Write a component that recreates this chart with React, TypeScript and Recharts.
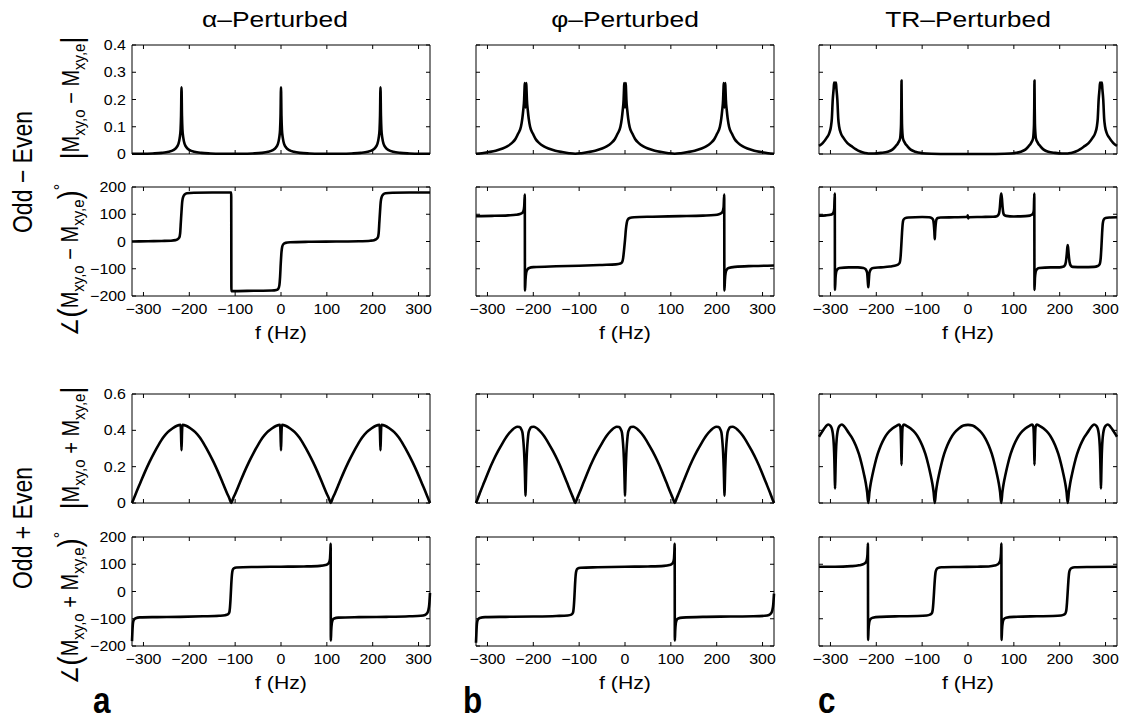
import React from 'react'
import { LineChart, Line, XAxis, YAxis } from 'recharts'

type Pt = [number, number]

// frequency axis (Hz) and tick labels
const F_DOMAIN: [number, number] = [-325, 325]
const F_TICKS = [-300, -200, -100, 0, 100, 200, 300]
const DIFF_MAG_TICKS = [0, 0.1, 0.2, 0.3, 0.4]
const SUM_MAG_TICKS = [0, 0.2, 0.4, 0.6]
const PHASE_TICKS = [-200, -100, 0, 100, 200]

const TITLES = ['α–Perturbed', 'φ–Perturbed', 'TR–Perturbed']
const LETTERS = ['a', 'b', 'c']

// |Mxy,o − Mxy,e|
const A_DIFF_MAG: Pt[] = [
  [-325, 0.001], [-300, 0.001], [-280, 0.002], [-260, 0.004], [-245, 0.008], [-235, 0.014], [-228, 0.024],
  [-224, 0.036], [-221, 0.058], [-219, 0.09], [-218, 0.14], [-217, 0.245], [-216, 0.14], [-215, 0.09],
  [-213, 0.058], [-210, 0.036], [-206, 0.024], [-199, 0.014], [-189, 0.008], [-174, 0.004], [-154, 0.002],
  [-134, 0.001], [-108, 0.001], [-82, 0.001], [-62, 0.002], [-42, 0.004], [-28, 0.008], [-18, 0.014],
  [-11, 0.024], [-7, 0.036], [-4, 0.058], [-2, 0.09], [-1, 0.14], [0, 0.245], [1, 0.14], [2, 0.09],
  [4, 0.058], [7, 0.036], [11, 0.024], [18, 0.014], [28, 0.008], [42, 0.004], [62, 0.002], [82, 0.001],
  [108, 0.001], [134, 0.001], [154, 0.002], [174, 0.004], [189, 0.008], [199, 0.014], [206, 0.024],
  [210, 0.036], [213, 0.058], [215, 0.09], [216, 0.14], [217, 0.245], [218, 0.14], [219, 0.09], [221, 0.058],
  [224, 0.036], [228, 0.024], [235, 0.014], [245, 0.008], [260, 0.004], [280, 0.002], [300, 0.001], [325, 0.001],
]

const B_DIFF_MAG: Pt[] = [
  [-325, 0.001], [-312, 0.003], [-297, 0.007], [-282, 0.012], [-267, 0.02], [-257, 0.028], [-247, 0.04],
  [-239, 0.055], [-233, 0.075], [-227, 0.1], [-224, 0.13], [-222, 0.16], [-220, 0.2], [-219, 0.245],
  [-218.5, 0.26], [-217, 0.17], [-215.5, 0.26], [-215, 0.245], [-214, 0.2], [-212, 0.16], [-210, 0.13],
  [-207, 0.1], [-201, 0.075], [-195, 0.055], [-187, 0.04], [-177, 0.028], [-167, 0.02], [-152, 0.012],
  [-137, 0.007], [-122, 0.003], [-108.5, 0.001], [-95, 0.003], [-80, 0.007], [-65, 0.012], [-50, 0.02],
  [-40, 0.028], [-30, 0.04], [-22, 0.055], [-16, 0.075], [-10, 0.1], [-7, 0.13], [-5, 0.16], [-3, 0.2],
  [-2, 0.245], [-1.5, 0.26], [0, 0.17], [1.5, 0.26], [2, 0.245], [3, 0.2], [5, 0.16], [7, 0.13], [10, 0.1],
  [16, 0.075], [22, 0.055], [30, 0.04], [40, 0.028], [50, 0.02], [65, 0.012], [80, 0.007], [95, 0.003],
  [108.5, 0.001], [122, 0.003], [137, 0.007], [152, 0.012], [167, 0.02], [177, 0.028], [187, 0.04],
  [195, 0.055], [201, 0.075], [207, 0.1], [210, 0.13], [212, 0.16], [214, 0.2], [215, 0.245], [215.5, 0.26],
  [217, 0.17], [218.5, 0.26], [219, 0.245], [220, 0.2], [222, 0.16], [224, 0.13], [227, 0.1], [233, 0.075],
  [239, 0.055], [247, 0.04], [257, 0.028], [267, 0.02], [282, 0.012], [297, 0.007], [312, 0.003], [325, 0.001],
]

const C_DIFF_MAG: Pt[] = [
  [-325, 0.03], [-317, 0.04], [-308, 0.06], [-303, 0.075], [-299, 0.1], [-297, 0.13], [-295, 0.2],
  [-293, 0.24], [-292, 0.262], [-290, 0.245], [-288, 0.262], [-287, 0.24], [-285, 0.2], [-283, 0.13],
  [-281, 0.1], [-277, 0.075], [-272, 0.06], [-263, 0.04], [-255, 0.03], [-245, 0.018], [-235, 0.009],
  [-225, 0.004], [-217.5, 0.002], [-205, 0.002], [-190, 0.004], [-175, 0.008], [-165, 0.016], [-158, 0.028],
  [-152, 0.042], [-148, 0.058], [-147, 0.075], [-146, 0.11], [-145.5, 0.17], [-145, 0.27], [-144.5, 0.17],
  [-144, 0.11], [-143, 0.075], [-142, 0.058], [-138, 0.042], [-132, 0.028], [-125, 0.016], [-115, 0.008],
  [-100, 0.003], [-80, 0.001], [-40, 0], [0, 0], [40, 0], [80, 0.001], [100, 0.003], [115, 0.008],
  [125, 0.016], [132, 0.028], [138, 0.042], [142, 0.058], [143, 0.075], [144, 0.11], [144.5, 0.17],
  [145, 0.27], [145.5, 0.17], [146, 0.11], [147, 0.075], [148, 0.058], [152, 0.042], [158, 0.028],
  [165, 0.016], [175, 0.008], [190, 0.004], [205, 0.002], [217.5, 0.002], [225, 0.004], [235, 0.009],
  [245, 0.018], [255, 0.03], [263, 0.04], [272, 0.06], [277, 0.075], [281, 0.1], [283, 0.13], [285, 0.2],
  [287, 0.24], [288, 0.262], [290, 0.245], [292, 0.262], [293, 0.24], [295, 0.2], [297, 0.13], [299, 0.1],
  [303, 0.075], [308, 0.06], [317, 0.04], [325, 0.03],
]

// ∠(Mxy,o − Mxy,e) in degrees
const A_DIFF_PH: Pt[] = [
  [-325, 0], [-290, 1], [-260, 2], [-240, 3], [-230, 5], [-226, 8], [-222, 14], [-220, 30], [-218.5, 70],
  [-217, 110], [-215.5, 145], [-213.5, 163], [-210, 173], [-205, 177], [-190, 179], [-150, 180],
  [-108.6, 180], [-108.2, -182], [-60, -181], [-20, -180], [-10, -178], [-6, -174], [-3.5, -160],
  [-2, -130], [-0.5, -80], [1, -40], [2.5, -20], [5, -10], [10, -5], [20, -3], [60, -1], [120, 0],
  [170, 1], [195, 3], [203, 5], [207, 8], [211, 14], [213, 30], [214.5, 70], [216, 110], [217.5, 145],
  [219.5, 163], [223, 173], [228, 177], [243, 179], [280, 180], [325, 180],
]

const B_DIFF_PH: Pt[] = [
  [-325, 93], [-290, 94], [-255, 96], [-238, 98], [-229, 101], [-224, 105], [-221.5, 112], [-219.8, 130],
  [-218.6, 172], [-218.2, -180], [-217, -140], [-215.5, -115], [-213, -103], [-209, -97], [-200, -94],
  [-150, -91], [-100, -89], [-50, -86], [-20, -84], [-10, -81], [-6, -75], [-4, -60], [-2, -30], [0, 5],
  [2, 45], [4, 70], [6, 80], [10, 86], [20, 89], [60, 91], [120, 93], [170, 95], [195, 97], [205, 100],
  [210, 104], [213, 110], [215, 125], [216.4, 172], [216.8, -180], [218, -140], [219.5, -115], [222, -103],
  [226, -97], [240, -93], [280, -90], [325, -88],
]

const C_DIFF_PH: Pt[] = [
  [-325, 95], [-310, 96], [-300, 98], [-296, 101], [-293.5, 106], [-291.8, 120], [-290.6, 176],
  [-290.2, -178], [-289, -135], [-287.5, -112], [-285, -102], [-280, -97], [-260, -95], [-240, -95],
  [-228, -97], [-223, -102], [-220, -115], [-218.5, -148], [-217.5, -168], [-216.5, -148], [-215, -115],
  [-212, -102], [-207, -97], [-190, -95], [-170, -92], [-160, -89], [-153, -85], [-149, -78], [-147, -55],
  [-145.5, -15], [-144, 30], [-142.5, 65], [-141, 79], [-138, 85], [-130, 88], [-100, 90], [-85, 89],
  [-79, 86], [-76, 80], [-74.5, 62], [-73.3, 35], [-72.5, 8], [-71.7, 35], [-70.5, 62], [-69, 80],
  [-66, 86], [-60, 88], [-30, 89], [-5, 90], [-1.5, 91], [-0.5, 96], [0.5, 85], [1.5, 89], [30, 90],
  [55, 91], [63, 93], [66, 97], [68, 105], [69.5, 125], [71, 158], [72.5, 176], [74, 158], [75.5, 125],
  [77, 105], [79, 97], [83, 94], [100, 92], [125, 93], [135, 95], [139, 98], [142, 103], [143.6, 115],
  [144.6, 176], [145, -178], [146, -135], [147.5, -112], [150, -102], [155, -97], [180, -95], [200, -95],
  [207, -93], [211, -88], [213.5, -75], [215.5, -45], [216.7, -22], [217.5, -13], [218.3, -22],
  [219.5, -45], [221.5, -75], [224, -88], [228, -93], [250, -94], [275, -93], [283, -90], [287, -84],
  [289.5, -60], [291, -20], [292.5, 30], [294, 66], [296, 80], [300, 86], [310, 88], [325, 89],
]

// |Mxy,o + Mxy,e|
const A_SUM_MAG: Pt[] = [
  [-325, 0], [-321, 0.025], [-317, 0.05], [-307, 0.11], [-297, 0.17], [-287, 0.225], [-277, 0.275],
  [-267, 0.32], [-257, 0.36], [-247, 0.39], [-237, 0.41], [-227, 0.425], [-219, 0.43], [-218, 0.38],
  [-217, 0.29], [-216, 0.38], [-215, 0.43], [-207, 0.425], [-197, 0.41], [-187, 0.39], [-177, 0.36],
  [-167, 0.32], [-157, 0.275], [-147, 0.225], [-137, 0.17], [-127, 0.11], [-117, 0.05], [-112.5, 0.025],
  [-108.5, 0], [-104.5, 0.025], [-100, 0.05], [-90, 0.11], [-80, 0.17], [-70, 0.225], [-60, 0.275],
  [-50, 0.32], [-40, 0.36], [-30, 0.39], [-20, 0.41], [-10, 0.425], [-2, 0.43], [-1, 0.38], [0, 0.29],
  [1, 0.38], [2, 0.43], [10, 0.425], [20, 0.41], [30, 0.39], [40, 0.36], [50, 0.32], [60, 0.275],
  [70, 0.225], [80, 0.17], [90, 0.11], [100, 0.05], [104.5, 0.025], [108.5, 0], [112.5, 0.025], [117, 0.05],
  [127, 0.11], [137, 0.17], [147, 0.225], [157, 0.275], [167, 0.32], [177, 0.36], [187, 0.39], [197, 0.41],
  [207, 0.425], [215, 0.43], [216, 0.38], [217, 0.29], [218, 0.38], [219, 0.43], [227, 0.425], [237, 0.41],
  [247, 0.39], [257, 0.36], [267, 0.32], [277, 0.275], [287, 0.225], [297, 0.17], [307, 0.11], [317, 0.05],
  [321, 0.025], [325, 0],
]

const B_SUM_MAG: Pt[] = [
  [-325, 0], [-321, 0.025], [-317, 0.052], [-307, 0.115], [-297, 0.178], [-287, 0.235], [-277, 0.285],
  [-267, 0.33], [-257, 0.37], [-247, 0.4], [-235, 0.42], [-230, 0.418], [-226, 0.405], [-223.5, 0.385],
  [-222, 0.35], [-220.5, 0.3], [-219.5, 0.25], [-218.5, 0.18], [-217.7, 0.1], [-217, 0.04], [-216.3, 0.1],
  [-215.5, 0.18], [-214.5, 0.25], [-213.5, 0.3], [-212, 0.35], [-210.5, 0.385], [-208, 0.405],
  [-204, 0.418], [-199, 0.42], [-187, 0.4], [-177, 0.37], [-167, 0.33], [-157, 0.285], [-147, 0.235],
  [-137, 0.178], [-127, 0.115], [-117, 0.052], [-112.5, 0.025], [-108.5, 0], [-104.5, 0.025],
  [-100, 0.052], [-90, 0.115], [-80, 0.178], [-70, 0.235], [-60, 0.285], [-50, 0.33], [-40, 0.37],
  [-30, 0.4], [-18, 0.42], [-13, 0.418], [-9, 0.405], [-6.5, 0.385], [-5, 0.35], [-3.5, 0.3], [-2.5, 0.25],
  [-1.5, 0.18], [-0.7, 0.1], [0, 0.04], [0.7, 0.1], [1.5, 0.18], [2.5, 0.25], [3.5, 0.3], [5, 0.35],
  [6.5, 0.385], [9, 0.405], [13, 0.418], [18, 0.42], [30, 0.4], [40, 0.37], [50, 0.33], [60, 0.285],
  [70, 0.235], [80, 0.178], [90, 0.115], [100, 0.052], [104.5, 0.025], [108.5, 0], [112.5, 0.025],
  [117, 0.052], [127, 0.115], [137, 0.178], [147, 0.235], [157, 0.285], [167, 0.33], [177, 0.37],
  [187, 0.4], [199, 0.42], [204, 0.418], [208, 0.405], [210.5, 0.385], [212, 0.35], [213.5, 0.3],
  [214.5, 0.25], [215.5, 0.18], [216.3, 0.1], [217, 0.04], [217.7, 0.1], [218.5, 0.18], [219.5, 0.25],
  [220.5, 0.3], [222, 0.35], [223.5, 0.385], [226, 0.405], [230, 0.418], [235, 0.42], [247, 0.4],
  [257, 0.37], [267, 0.33], [277, 0.285], [287, 0.235], [297, 0.178], [307, 0.115], [317, 0.052],
  [321, 0.025], [325, 0],
]

const C_SUM_MAG: Pt[] = [
  [-325, 0.365], [-320, 0.385], [-315, 0.405], [-310, 0.422], [-305, 0.432], [-300, 0.425], [-297, 0.41],
  [-295, 0.385], [-293.5, 0.35], [-292.5, 0.31], [-291.5, 0.24], [-290.7, 0.15], [-290, 0.08],
  [-289.3, 0.15], [-288.5, 0.24], [-287.5, 0.31], [-286.5, 0.35], [-285, 0.385], [-283, 0.41],
  [-280, 0.425], [-275, 0.432], [-270, 0.422], [-260, 0.385], [-252, 0.355], [-245, 0.318], [-238, 0.27],
  [-232, 0.215], [-227, 0.16], [-223, 0.11], [-220, 0.06], [-217.5, 0], [-215, 0.06], [-212, 0.11],
  [-208, 0.16], [-203, 0.215], [-197, 0.27], [-190, 0.318], [-183, 0.355], [-175, 0.385], [-165, 0.41],
  [-155, 0.426], [-150, 0.432], [-147.5, 0.42], [-146.5, 0.38], [-145.7, 0.3], [-145, 0.21], [-144.3, 0.3],
  [-143.5, 0.38], [-142.5, 0.42], [-140, 0.432], [-135, 0.426], [-125, 0.41], [-115, 0.385], [-107, 0.355],
  [-100, 0.318], [-93, 0.27], [-87, 0.215], [-82, 0.16], [-78, 0.11], [-75, 0.06], [-72.5, 0], [-70, 0.06],
  [-67, 0.11], [-63, 0.16], [-58, 0.215], [-52, 0.27], [-45, 0.318], [-38, 0.355], [-30, 0.385],
  [-20, 0.41], [-10, 0.426], [0, 0.43], [10, 0.426], [20, 0.41], [30, 0.385], [38, 0.355], [45, 0.318],
  [52, 0.27], [58, 0.215], [63, 0.16], [67, 0.11], [70, 0.06], [72.5, 0], [75, 0.06], [78, 0.11],
  [82, 0.16], [87, 0.215], [93, 0.27], [100, 0.318], [107, 0.355], [115, 0.385], [125, 0.41], [135, 0.426],
  [140, 0.432], [142.5, 0.42], [143.5, 0.38], [144.3, 0.3], [145, 0.21], [145.7, 0.3], [146.5, 0.38],
  [147.5, 0.42], [150, 0.432], [155, 0.426], [165, 0.41], [175, 0.385], [183, 0.355], [190, 0.318],
  [197, 0.27], [203, 0.215], [208, 0.16], [212, 0.11], [215, 0.06], [217.5, 0], [220, 0.06], [223, 0.11],
  [227, 0.16], [232, 0.215], [238, 0.27], [245, 0.318], [252, 0.355], [260, 0.385], [270, 0.422],
  [275, 0.432], [280, 0.425], [283, 0.41], [285, 0.385], [286.5, 0.35], [287.5, 0.31], [288.5, 0.24],
  [289.3, 0.15], [290, 0.08], [290.7, 0.15], [291.5, 0.24], [292.5, 0.31], [293.5, 0.35], [295, 0.385],
  [297, 0.41], [300, 0.425], [305, 0.432], [310, 0.422], [315, 0.405], [320, 0.385], [325, 0.365],
]

// ∠(Mxy,o + Mxy,e) in degrees
const A_SUM_PH: Pt[] = [
  [-325, -182], [-324.3, -155], [-323.5, -128], [-322.5, -112], [-320.5, -103], [-317, -98], [-308, -95],
  [-270, -94], [-220, -93], [-170, -91], [-135, -89], [-122, -87], [-116, -84], [-113, -78], [-111.5, -62],
  [-110, -25], [-108.5, 25], [-107, 62], [-105.5, 78], [-103, 85], [-97, 88], [-60, 90], [0, 91], [50, 92],
  [85, 94], [97, 97], [102, 101], [105, 107], [106.8, 120], [107.8, 150], [108.3, 175], [108.7, -180],
  [109.5, -145], [110.8, -117], [112.5, -105], [116, -99], [125, -96], [170, -94], [230, -93], [280, -91],
  [305, -89], [314, -86], [318.5, -80], [321.5, -68], [323.5, -45], [325, -5],
]

const B_SUM_PH: Pt[] = [
  [-325, -188], [-324.3, -160], [-323.5, -130], [-322.5, -112], [-320.5, -102], [-317, -97], [-305, -94],
  [-260, -93], [-200, -92], [-150, -90], [-125, -88], [-117, -85], [-113.5, -78], [-112, -62],
  [-110.5, -25], [-109, 25], [-107.5, 62], [-106, 77], [-103.5, 84], [-97, 87], [-60, 89], [0, 91],
  [50, 92], [85, 94], [97, 97], [102, 101], [105, 107], [106.8, 120], [107.8, 150], [108.3, 175],
  [108.7, -180], [109.5, -145], [110.8, -117], [112.5, -105], [116, -99], [125, -96], [170, -93],
  [230, -92], [280, -91], [305, -89], [314, -86], [318.5, -80], [321.5, -68], [323.5, -45], [325, -8],
]

const C_SUM_PH: Pt[] = [
  [-325, 91], [-290, 91], [-255, 93], [-238, 96], [-229, 100], [-224, 105], [-221, 114], [-219.3, 135],
  [-218.3, 176], [-217.9, -178], [-217, -140], [-215.5, -114], [-213, -102], [-208, -96], [-190, -93],
  [-150, -91], [-110, -90], [-90, -88], [-83, -85], [-79, -80], [-77, -68], [-75.5, -40], [-74, 0],
  [-72.5, 40], [-71, 68], [-69, 80], [-66, 86], [-58, 89], [-20, 90], [20, 91], [45, 92], [58, 95],
  [64, 99], [68, 105], [70.5, 116], [72, 140], [72.8, 176], [73.2, -178], [74.2, -140], [75.7, -114],
  [78, -102], [83, -96], [100, -93], [150, -91], [185, -90], [203, -88], [209, -85], [212.5, -80],
  [214.5, -68], [216, -40], [217.5, 0], [219, 40], [220.5, 68], [222.5, 80], [225.5, 86], [233, 89],
  [270, 90], [325, 91],
]

// layout
const COL_X = [132, 476, 819]
const ROW_Y = [45, 187, 394, 537]
const PW = 298
const PH = 109
const ML = 45
const MR = 5
const MT = 5
const MB = 30
const PAD_T = 12
const TL = 4
const FONT = '"Liberation Sans", Arial, Helvetica, sans-serif'

function fmtTick(v: number) {
  return v < 0 ? `\u2212${Math.abs(v)}` : String(v)
}

const bottomTick = (show: boolean) => (p: any) => (
  <g>
    <line x1={p.x} x2={p.x} y1={p.y} y2={p.y - TL} stroke="#000" />
    {show && (
      <text
        transform={`translate(${p.x},${p.y + 18}) scale(1.1,1)`}
        textAnchor="middle"
        fontSize={14.5}
        fontFamily={FONT}
        fill="#000"
      >
        {fmtTick(p.payload.value)}
      </text>
    )}
  </g>
)

const topTick = (p: any) => <line x1={p.x} x2={p.x} y1={p.y} y2={p.y + TL} stroke="#000" />

const leftTick = (show: boolean) => (p: any) => (
  <g>
    <line x1={p.x} x2={p.x + TL} y1={p.y} y2={p.y} stroke="#000" />
    {show && (
      <text
        transform={`translate(${p.x - 6},${p.y + 5}) scale(1.1,1)`}
        textAnchor="end"
        fontSize={14.5}
        fontFamily={FONT}
        fill="#000"
      >
        {fmtTick(p.payload.value)}
      </text>
    )}
  </g>
)

const rightTick = (p: any) => <line x1={p.x} x2={p.x - TL} y1={p.y} y2={p.y} stroke="#000" />

function Panel(props: {
  col: number
  row: number
  pts: Pt[]
  yDomain: [number, number]
  yTicks: number[]
}) {
  const { col, row, pts, yDomain, yTicks } = props
  const data = pts.map(([f, v]) => ({ f, v }))
  const showY = col === 0
  const showX = row === 1 || row === 3
  const axisLine = { stroke: '#000', strokeWidth: 1 }
  return (
    <div style={{ position: 'absolute', left: COL_X[col] - ML, top: ROW_Y[row] - MT - PAD_T }}>
      <LineChart
        width={PW + ML + MR}
        height={PH + MT + MB + PAD_T}
        data={data}
        margin={{ top: PAD_T, right: 0, bottom: 0, left: 0 }}
      >
        <XAxis
          xAxisId="b"
          orientation="bottom"
          type="number"
          dataKey="f"
          domain={F_DOMAIN}
          ticks={F_TICKS}
          interval={0}
          height={MB}
          tickSize={0}
          tickMargin={0}
          tickLine={false}
          axisLine={axisLine}
          tick={bottomTick(showX)}
        />
        <XAxis
          xAxisId="t"
          orientation="top"
          type="number"
          dataKey="f"
          domain={F_DOMAIN}
          ticks={F_TICKS}
          interval={0}
          height={MT}
          tickSize={0}
          tickMargin={0}
          tickLine={false}
          axisLine={axisLine}
          tick={topTick}
        />
        <YAxis
          yAxisId="l"
          orientation="left"
          type="number"
          dataKey="v"
          domain={yDomain}
          ticks={yTicks}
          interval={0}
          width={ML}
          tickSize={0}
          tickMargin={0}
          tickLine={false}
          axisLine={axisLine}
          tick={leftTick(showY)}
        />
        <YAxis
          yAxisId="r"
          orientation="right"
          type="number"
          dataKey="v"
          domain={yDomain}
          ticks={yTicks}
          interval={0}
          width={MR}
          tickSize={0}
          tickMargin={0}
          tickLine={false}
          axisLine={axisLine}
          tick={rightTick}
        />
        <Line
          xAxisId="b"
          yAxisId="l"
          dataKey="v"
          type="monotone"
          stroke="#000"
          strokeWidth={2.6}
          strokeLinejoin="round"
          dot={false}
          isAnimationActive={false}
        />
      </LineChart>
    </div>
  )
}

function MagLabel({ x, y, op }: { x: number; y: number; op: string }) {
  return (
    <text transform={`translate(${x},${y}) rotate(-90) scale(1,1.15)`} textAnchor="middle" fontSize={20} fontFamily={FONT}>
      <tspan fontSize={26} dy={3}>|</tspan>
      <tspan dy={-3}>M</tspan>
      <tspan fontSize={15} dy={5}>xy,o</tspan>
      <tspan dy={-5}>{` ${op} M`}</tspan>
      <tspan fontSize={15} dy={5}>xy,e</tspan>
      <tspan fontSize={26} dy={-2}>|</tspan>
    </text>
  )
}

function PhaseLabel({ x, y, op }: { x: number; y: number; op: string }) {
  return (
    <text transform={`translate(${x},${y}) rotate(-90) scale(1,1.15)`} textAnchor="middle" fontSize={20} fontFamily={FONT}>
      <tspan>∠</tspan>
      <tspan fontSize={28} dy={2}>(</tspan>
      <tspan dy={-2}>M</tspan>
      <tspan fontSize={15} dy={5}>xy,o</tspan>
      <tspan dy={-5}>{` ${op} M`}</tspan>
      <tspan fontSize={15} dy={5}>xy,e</tspan>
      <tspan fontSize={28} dy={-3}>)</tspan>
      <tspan fontSize={16} dy={-12}>°</tspan>
    </text>
  )
}

export default function App() {
  const diffMag = [A_DIFF_MAG, B_DIFF_MAG, C_DIFF_MAG]
  const diffPh = [A_DIFF_PH, B_DIFF_PH, C_DIFF_PH]
  const sumMag = [A_SUM_MAG, B_SUM_MAG, C_SUM_MAG]
  const sumPh = [A_SUM_PH, B_SUM_PH, C_SUM_PH]
  const centers = COL_X.map((x) => x + PW / 2)

  return (
    <div style={{ position: 'absolute', left: 0, top: 0, width: 1122, height: 722, background: '#fff', overflow: 'hidden' }}>
      {[0, 1, 2].map((c) => (
        <React.Fragment key={c}>
          <Panel col={c} row={0} pts={diffMag[c]} yDomain={[0, 0.4]} yTicks={DIFF_MAG_TICKS} />
          <Panel col={c} row={1} pts={diffPh[c]} yDomain={[-200, 200]} yTicks={PHASE_TICKS} />
          <Panel col={c} row={2} pts={sumMag[c]} yDomain={[0, 0.6]} yTicks={SUM_MAG_TICKS} />
          <Panel col={c} row={3} pts={sumPh[c]} yDomain={[-200, 200]} yTicks={PHASE_TICKS} />
        </React.Fragment>
      ))}
      <svg width={1122} height={722} style={{ position: 'absolute', left: 0, top: 0, pointerEvents: 'none' }}>
        {TITLES.map((t, i) => (
          <text
            key={t}
            transform={`translate(${centers[i] - (i === 0 ? 6 : 0)},27) scale(1.2,1)`}
            textAnchor="middle"
            fontSize={22}
            fontFamily={FONT}
          >
            {t}
          </text>
        ))}
        {centers.map((cx, i) => (
          <React.Fragment key={i}>
            <text transform={`translate(${cx},339) scale(1.18,1)`} textAnchor="middle" fontSize={18} fontFamily={FONT}>
              f (Hz)
            </text>
            <text transform={`translate(${cx},689) scale(1.18,1)`} textAnchor="middle" fontSize={18} fontFamily={FONT}>
              f (Hz)
            </text>
          </React.Fragment>
        ))}
        <text transform="translate(32,172) rotate(-90) scale(1,1.2)" textAnchor="middle" fontSize={23} fontFamily={FONT}>
          Odd − Even
        </text>
        <text transform="translate(32,528) rotate(-90) scale(1,1.2)" textAnchor="middle" fontSize={23} fontFamily={FONT}>
          Odd + Even
        </text>
        <MagLabel x={79} y={98} op="−" />
        <PhaseLabel x={78} y={260} op="−" />
        <MagLabel x={79} y={448} op="+" />
        <PhaseLabel x={78} y={608} op="+" />
        {LETTERS.map((l, i) => (
          <text
            key={l}
            transform={`translate(${[93, 463, 818][i]},713) scale(0.85,1)`}
            fontSize={37}
            fontWeight="bold"
            fontFamily={FONT}
          >
            {l}
          </text>
        ))}
      </svg>
    </div>
  )
}
